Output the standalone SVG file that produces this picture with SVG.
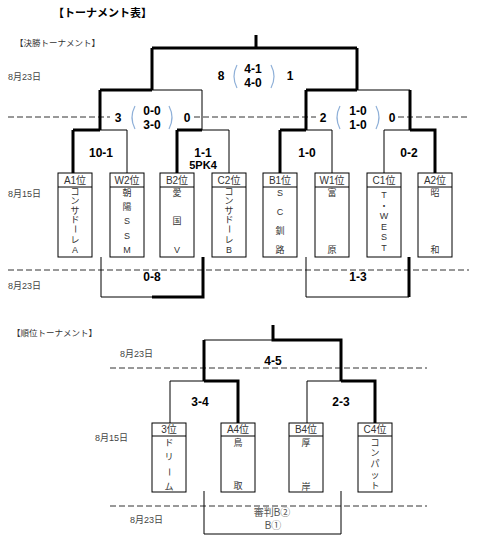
<svg xmlns="http://www.w3.org/2000/svg" width="499" height="548" viewBox="0 0 499 548">
<style>
text{font-family:"Liberation Sans","Noto Sans CJK JP",sans-serif;fill:#222}
.t{stroke:#000;stroke-width:3;fill:none}
.n{stroke:#000;stroke-width:1;fill:none}
.d{stroke:#333;stroke-width:1;stroke-dasharray:6 3;fill:none}
.bx{fill:#fff;stroke:#000;stroke-width:1}
.hd{font-size:10px;fill:#333;text-anchor:middle}
.ch{font-size:9px;fill:#333;text-anchor:middle;dominant-baseline:central}
.sc{font-size:12px;font-weight:bold;text-anchor:middle;fill:#000}
.dt{font-size:9px;fill:#444}
.lb{font-size:8.5px;fill:#333}
.br{stroke:#8fb0d8;stroke-width:1.2;fill:none}
</style>
<rect width="499" height="548" fill="#fff"/>
<text x="53" y="17" style="font-size:11px;font-weight:bold;fill:#000">【トーナメント表】</text>
<text x="15" y="46" class="lb">【決勝トーナメント】</text>
<text x="12" y="336" class="lb">【順位トーナメント】</text>
<g id="dates">
<text x="8" y="80" class="dt">8月23日</text>
<text x="8" y="197" class="dt">8月15日</text>
<text x="8" y="289" class="dt">8月23日</text>
<text x="120" y="357" class="dt">8月23日</text>
<text x="95" y="441" class="dt">8月15日</text>
<text x="130" y="523" class="dt">8月23日</text>
</g>
<g id="connectors">
<path class="d" d="M8 117H110M194 117H316M398 117H469M8 270H469M110 368H427M110 506H427"/>
<path class="t" d="M256 35V48M152 48H357M152 48V90M357 48V90"/>
<path class="t" d="M100 90H152M100 90V130"/>
<path class="n" d="M152 90H202V130"/>
<path class="t" d="M306 90H357M306 90V130M410 90V130"/>
<path class="n" d="M357 90H410"/>
<path class="t" d="M73 130H100M73 130V173"/>
<path class="n" d="M100 130H127V173"/>
<path class="t" d="M177 130H202M177 130V173"/>
<path class="n" d="M202 130H229V173"/>
<path class="t" d="M280 130H306M280 130V173"/>
<path class="n" d="M306 130H332V173"/>
<path class="t" d="M410 130H435V173"/>
<path class="n" d="M384 173V130H410"/>
<path class="n" d="M101 257V297H152"/>
<path class="t" d="M152 297H203V257"/>
<path class="n" d="M306 257V297H409"/>
<path class="t" d="M409 297V257"/>
<path class="t" d="M273 325V340H341V381M204 340V381"/>
<path class="n" d="M204 340H273"/>
<path class="t" d="M204 381H238V423"/>
<path class="n" d="M204 381H170V423"/>
<path class="t" d="M341 381H375V423"/>
<path class="n" d="M341 381H307V423"/>
<path class="n" d="M204 491V534H341V491"/>
</g>
<g id="scores">
<text x="221" y="80" class="sc">8</text>
<text x="253" y="73" class="sc">4-1</text>
<text x="253" y="87" class="sc">4-0</text>
<text x="290" y="80" class="sc">1</text>
<path class="br" d="M237 65Q231 76.5 237 88M271 65Q277 76.5 271 88"/>
<text x="118" y="122" class="sc">3</text>
<text x="152" y="115" class="sc">0-0</text>
<text x="152" y="129" class="sc">3-0</text>
<text x="187" y="122" class="sc">0</text>
<path class="br" d="M135 106Q129 117.5 135 129M169 106Q175 117.5 169 129"/>
<text x="323" y="122" class="sc">2</text>
<text x="358" y="115" class="sc">1-0</text>
<text x="358" y="129" class="sc">1-0</text>
<text x="392" y="122" class="sc">0</text>
<path class="br" d="M340 106Q334 117.5 340 129M376 106Q382 117.5 376 129"/>
<text x="101" y="157" class="sc">10-1</text>
<text x="203" y="157" class="sc">1-1</text>
<text x="203" y="169" class="sc" style="font-size:11px">5PK4</text>
<text x="307" y="157" class="sc">1-0</text>
<text x="409" y="157" class="sc">0-2</text>
<text x="152" y="281" class="sc">0-8</text>
<text x="358" y="281" class="sc">1-3</text>
<text x="273" y="365" class="sc">4-5</text>
<text x="200" y="406" class="sc">3-4</text>
<text x="341" y="406" class="sc">2-3</text>
<text x="272" y="516" style="font-size:10px;fill:#555;text-anchor:middle">審判B②</text>
<text x="273" y="529" style="font-size:10px;fill:#555;text-anchor:middle">B①</text>
</g>
<g id="a1">
<rect class="bx" x="58" y="173" width="34" height="84"/><path class="n" d="M58 187H92"/>
<text x="75" y="184" class="hd">A1位</text>
<text x="75" y="192" class="ch">コ</text><text x="75" y="201" class="ch">ン</text><text x="75" y="211" class="ch">サ</text><text x="75" y="220" class="ch">ド</text><text x="75" y="229" class="ch" transform="rotate(90 75 229)">ー</text><text x="75" y="240" class="ch">レ</text><text x="75" y="250" class="ch">A</text>
</g>
<g id="w2">
<rect class="bx" x="110" y="173" width="34" height="84"/><path class="n" d="M110 187H144"/>
<text x="127" y="184" class="hd">W2位</text>
<text x="127" y="193" class="ch">朝</text><text x="127" y="207" class="ch">陽</text><text x="127" y="221" class="ch">S</text><text x="127" y="236" class="ch">S</text><text x="127" y="250" class="ch">M</text>
</g>
<g id="b2">
<rect class="bx" x="160" y="173" width="34" height="84"/><path class="n" d="M160 187H194"/>
<text x="177" y="184" class="hd">B2位</text>
<text x="177" y="193" class="ch">愛</text><text x="177" y="221" class="ch">国</text><text x="177" y="250" class="ch">V</text>
</g>
<g id="c2">
<rect class="bx" x="212" y="173" width="34" height="84"/><path class="n" d="M212 187H246"/>
<text x="229" y="184" class="hd">C2位</text>
<text x="229" y="192" class="ch">コ</text><text x="229" y="201" class="ch">ン</text><text x="229" y="211" class="ch">サ</text><text x="229" y="220" class="ch">ド</text><text x="229" y="229" class="ch" transform="rotate(90 229 229)">ー</text><text x="229" y="240" class="ch">レ</text><text x="229" y="250" class="ch">B</text>
</g>
<g id="b1">
<rect class="bx" x="263" y="173" width="34" height="84"/><path class="n" d="M263 187H297"/>
<text x="280" y="184" class="hd">B1位</text>
<text x="280" y="193" class="ch">S</text><text x="280" y="212" class="ch">C</text><text x="280" y="231" class="ch">釧</text><text x="280" y="250" class="ch">路</text>
</g>
<g id="w1">
<rect class="bx" x="315" y="173" width="34" height="84"/><path class="n" d="M315 187H349"/>
<text x="332" y="184" class="hd">W1位</text>
<text x="332" y="193" class="ch">富</text><text x="332" y="250" class="ch">原</text>
</g>
<g id="c1">
<rect class="bx" x="367" y="173" width="34" height="84"/><path class="n" d="M367 187H401"/>
<text x="384" y="184" class="hd">C1位</text>
<text x="384" y="195" class="ch">T</text><text x="384" y="206" class="ch">・</text><text x="384" y="216" class="ch">W</text><text x="384" y="227" class="ch">E</text><text x="384" y="237" class="ch">S</text><text x="384" y="248" class="ch">T</text>
</g>
<g id="a2">
<rect class="bx" x="418" y="173" width="34" height="84"/><path class="n" d="M418 187H452"/>
<text x="435" y="184" class="hd">A2位</text>
<text x="435" y="193" class="ch">昭</text><text x="435" y="250" class="ch">和</text>
</g>
<g id="p3">
<rect class="bx" x="152" y="423" width="34" height="69"/><path class="n" d="M152 436H186"/>
<text x="169" y="433" class="hd">3位</text>
<text x="169" y="443" class="ch">ド</text><text x="169" y="457" class="ch">リ</text><text x="169" y="472" class="ch" transform="rotate(90 169 472)">ー</text><text x="169" y="487" class="ch">ム</text>
</g>
<g id="a4">
<rect class="bx" x="221" y="423" width="34" height="69"/><path class="n" d="M221 436H255"/>
<text x="238" y="433" class="hd">A4位</text>
<text x="238" y="443" class="ch">鳥</text><text x="238" y="486" class="ch">取</text>
</g>
<g id="b4">
<rect class="bx" x="289" y="423" width="34" height="69"/><path class="n" d="M289 436H323"/>
<text x="306" y="433" class="hd">B4位</text>
<text x="306" y="443" class="ch">厚</text><text x="306" y="487" class="ch">岸</text>
</g>
<g id="c4">
<rect class="bx" x="358" y="423" width="34" height="69"/><path class="n" d="M358 436H392"/>
<text x="375" y="433" class="hd">C4位</text>
<text x="375" y="443" class="ch">コ</text><text x="375" y="453" class="ch">ン</text><text x="375" y="464" class="ch">パ</text><text x="375" y="475" class="ch">ッ</text><text x="375" y="486" class="ch">ト</text>
</g>
</svg>
